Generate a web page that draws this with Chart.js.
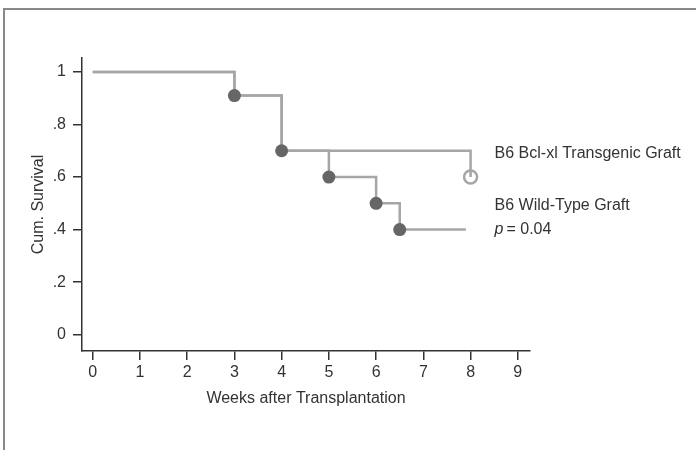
<!DOCTYPE html>
<html lang="en">
<head>
  <meta charset="UTF-8">
  <title>Cumulative Survival</title>
  <style>
    body {
      margin: 0;
      padding: 0;
      background-color: #ffffff;
    }
    .wrap {
      position: relative;
      width: 696px;
      height: 450px;
      overflow: hidden;
    }
    .frame {
      position: absolute;
      left: 3px;
      top: 8px;
      right: -10px;
      bottom: -10px;
      border-top: 2px solid #888888;
      border-left: 2px solid #888888;
    }
    canvas {
      position: absolute;
      left: 0;
      top: 0;
    }
  </style>
</head>
<body>
  <div class="wrap">
    <div class="frame"></div>
    <canvas id="survivalChart" width="696" height="450"></canvas>
  </div>

  <script src="https://cdn.jsdelivr.net/npm/chart.js"></script>
  <script>
    // Kaplan-Meier steps
    const wtWeeks = [0, 3, 4, 5, 6, 6.5, 7.9];
    const wtSurvival = [1, 0.91, 0.7, 0.6, 0.5, 0.4, 0.4];
    const tgWeeks = [0, 3, 4, 8];
    const tgSurvival = [1, 0.91, 0.7, 0.6];

    const xTicks = [0, 1, 2, 3, 4, 5, 6, 7, 8, 9];
    const yTicks = [0, 0.2, 0.4, 0.6, 0.8, 1];
    const yTickLabels = ['0', '.2', '.4', '.6', '.8', '1'];

    const seriesNames = ['B6 Bcl-xl Transgenic Graft', 'B6 Wild-Type Graft'];
    const pValue = '0.04';

    const lineGrey = '#a6a6a6';
    const dotGrey = '#666666';
    const axisColor = '#333333';
    const fontFamily = "'Liberation Sans', Arial, sans-serif";

    // text labels next to the curve ends
    const curveLabels = {
      id: 'curveLabels',
      afterDatasetsDraw(chart) {
        const ctx = chart.ctx;
        const x = chart.scales.x.getPixelForValue(8) + 24;
        const y = chart.scales.y;
        ctx.save();
        ctx.fillStyle = axisColor;
        ctx.textAlign = 'left';
        ctx.textBaseline = 'middle';
        ctx.font = '16px ' + fontFamily;
        ctx.fillText(seriesNames[0], x, y.getPixelForValue(0.7) + 3);
        ctx.fillText(seriesNames[1], x, y.getPixelForValue(0.5) + 2);
        ctx.font = 'italic 16px ' + fontFamily;
        ctx.fillText('p', x, y.getPixelForValue(0.4));
        const pw = ctx.measureText('p').width;
        ctx.font = '16px ' + fontFamily;
        ctx.fillText('= ' + pValue, x + pw + 3, y.getPixelForValue(0.4));
        ctx.restore();
      }
    };

    new Chart(document.getElementById('survivalChart'), {
      type: 'line',
      data: {
        datasets: [{
          label: seriesNames[1],
          data: wtWeeks.map((w, i) => ({ x: w, y: wtSurvival[i] })),
          stepped: 'before',
          borderColor: lineGrey,
          borderWidth: 2.5,
          fill: false,
          pointRadius: wtWeeks.map((w, i) => (i > 0 && i < wtWeeks.length - 1) ? 6.5 : 0),
          pointBackgroundColor: dotGrey,
          pointBorderColor: dotGrey,
          pointBorderWidth: 0
        }, {
          label: seriesNames[0],
          data: tgWeeks.map((w, i) => ({ x: w, y: tgSurvival[i] })),
          stepped: 'before',
          borderColor: lineGrey,
          borderWidth: 2.5,
          fill: false,
          pointRadius: tgWeeks.map((w, i) => i === tgWeeks.length - 1 ? 6.5 : 0),
          pointBackgroundColor: 'rgba(0,0,0,0)',
          pointBorderColor: lineGrey,
          pointBorderWidth: 2.5
        }]
      },
      options: {
        responsive: false,
        animation: false,
        events: [],
        layout: {
          padding: { left: 0, top: 58, right: 166, bottom: 0 }
        },
        plugins: {
          legend: { display: false },
          tooltip: { enabled: false }
        },
        scales: {
          x: {
            type: 'linear',
            min: -0.227,
            max: 9.258,
            afterBuildTicks: (axis) => { axis.ticks = xTicks.map(v => ({ value: v })); },
            afterFit: (axis) => { axis.height = 99; },
            grid: {
              drawOnChartArea: false,
              drawTicks: true,
              tickLength: 9,
              tickColor: axisColor,
              lineWidth: 1.5
            },
            border: { display: true, color: axisColor, width: 1.5 },
            ticks: {
              color: axisColor,
              padding: 3,
              font: { family: fontFamily, size: 16 },
              callback: (v) => String(v)
            },
            title: {
              display: true,
              text: 'Weeks after Transplantation',
              color: axisColor,
              font: { family: fontFamily, size: 16 },
              padding: { top: 0, bottom: 42 }
            }
          },
          y: {
            type: 'linear',
            min: -0.062,
            max: 1.053,
            afterBuildTicks: (axis) => { axis.ticks = yTicks.map(v => ({ value: v })); },
            afterFit: (axis) => { axis.width = 82; },
            grid: {
              drawOnChartArea: false,
              drawTicks: true,
              tickLength: 9,
              tickColor: axisColor,
              lineWidth: 1.5
            },
            border: { display: true, color: axisColor, width: 1.5 },
            ticks: {
              color: axisColor,
              padding: 7,
              font: { family: fontFamily, size: 16 },
              callback: (v) => yTickLabels[yTicks.indexOf(v)]
            },
            title: {
              display: true,
              text: 'Cum. Survival',
              color: axisColor,
              font: { family: fontFamily, size: 16 },
              padding: { top: 29, bottom: 0 }
            }
          }
        }
      },
      plugins: [curveLabels]
    });
  </script>
</body>
</html>
